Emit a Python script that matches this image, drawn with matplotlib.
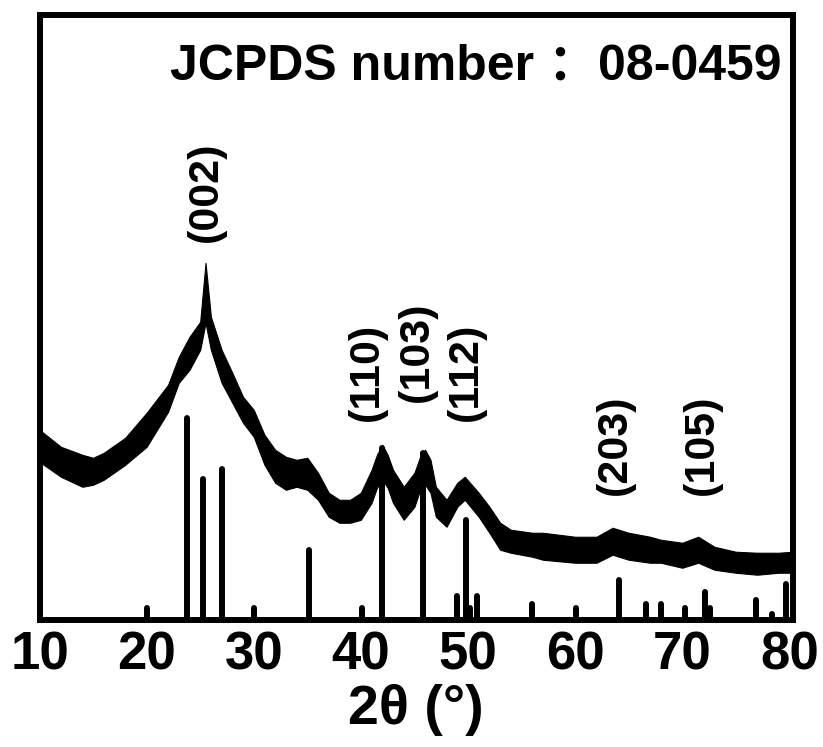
import matplotlib
matplotlib.use("Agg")
import matplotlib.pyplot as plt
import numpy as np

# Measured XRD pattern: upper / lower envelope of the noisy trace (a.u.)
two_theta = [10, 12, 14, 15, 16, 18, 20, 22, 23, 24, 25, 25.5, 26, 27, 28, 29, 30,
             31, 32, 33, 34, 35, 36, 37, 38, 39, 40, 41, 41.5, 42, 42.5, 43, 44,
             45, 45.5, 46, 46.5, 47, 48, 49, 49.7, 51, 52, 53, 54, 56, 57, 60, 62,
             63.5, 65, 67, 68, 70, 71.5, 73, 75, 77, 79, 80.3]
upper = [188, 171, 163, 160, 165, 180, 205, 233, 261, 281, 296, 355, 301, 268, 245,
         221, 208, 183, 168, 161, 158, 160, 145, 125, 118, 118, 125, 148, 163, 173,
         163, 148, 131, 145, 160, 168, 158, 131, 118, 135, 141, 125, 111, 95, 88,
         85, 85, 81, 81, 90, 85, 81, 78, 75, 81, 71, 66, 65, 65, 66]
lower = [156, 141, 131, 133, 138, 153, 171, 206, 235, 248, 268, 295, 268, 235, 215,
         195, 181, 153, 135, 128, 131, 128, 118, 101, 95, 95, 98, 115, 130, 138,
         130, 115, 98, 111, 127, 133, 125, 101, 91, 111, 118, 101, 85, 68, 65,
         61, 58, 55, 55, 63, 58, 55, 55, 50, 55, 48, 45, 43, 45, 45]

# JCPDS 08-0459 reference lines
ref_pos = [20.0, 23.8, 25.3, 27.05, 30.0, 35.15, 40.1, 41.96, 45.8, 48.96, 49.84,
           50.15, 50.83, 55.94, 60.1, 64.06, 66.58, 67.98, 70.22, 72.09, 72.56,
           76.9, 78.4, 79.65]
ref_int = [10, 200, 139, 149, 10, 68, 10, 170, 165, 22, 98, 10, 22, 14, 10, 38,
           14, 14, 10, 26, 10, 18, 4, 34]

# Peak labels
hkl = ["(002)", "(110)", "(103)", "(112)", "(203)", "(105)"]
hkl_x = [25.5, 40.6, 45.2, 49.8, 63.7, 71.8]
hkl_y = [426, 246, 266, 246, 173, 173]

xticks = [10, 20, 30, 40, 50, 60, 70, 80]

fig = plt.figure(figsize=(8.23, 7.47), dpi=100)
ax = fig.add_axes([0.048, 0.1704, 0.915, 0.8095])

ax.fill_between(two_theta, lower, upper, color="black", linewidth=0.8, edgecolor="black")
lc = ax.vlines(ref_pos, 0, ref_int, color="black", linewidth=4.3)
lc.set_capstyle("round")

for t, x, y in zip(hkl, hkl_x, hkl_y):
    ax.text(x, y, t, rotation=90, ha="center", va="center", fontsize=31,
            fontweight="bold", family=["Liberation Sans", "DejaVu Sans"])

ax.text(0.985, 0.915, "JCPDS number ：08-0459", transform=ax.transAxes,
        ha="right", va="center", fontsize=36, fontweight="bold",
        family=["Liberation Sans", "Noto Sans CJK SC", "DejaVu Sans"])

ax.set_xlim(10, 80.3)
ax.set_ylim(-2, 603)
ax.set_xticks(xticks)
ax.set_xticklabels([str(v) for v in xticks], fontsize=38, fontweight="bold",
                   family=["Liberation Sans", "DejaVu Sans"])
ax.set_yticks([])
ax.tick_params(axis="x", length=0, pad=8)
ax.set_xlabel("2θ (°)", fontsize=40, fontweight="bold",
              family=["Liberation Sans", "DejaVu Sans"], labelpad=2)
for s in ax.spines.values():
    s.set_linewidth(4.3)

fig.savefig("out.png", dpi=100)
